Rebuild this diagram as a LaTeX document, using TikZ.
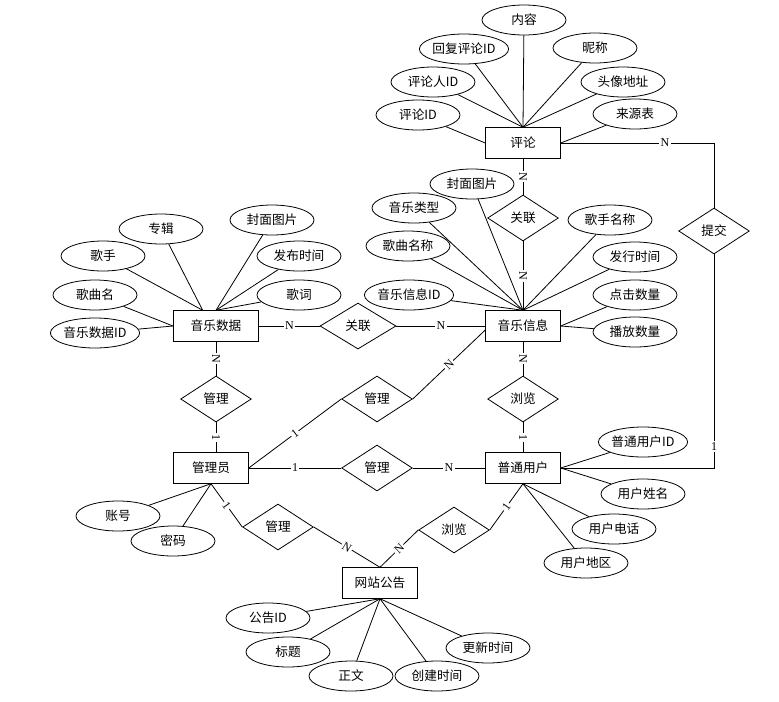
\documentclass[tikz,border=0pt]{standalone}
\usepackage{fontspec}
\setmainfont{Liberation Serif}
\newfontfamily\cjk{Noto Sans CJK SC}
\usetikzlibrary{shapes.geometric}
\begin{document}
\begin{tikzpicture}[x=0.75pt, y=-0.75pt, line width=0.6pt,
  entity/.style={draw, rectangle, minimum width=56pt, minimum height=23pt, font=\cjk\fontsize{9.5}{11}\selectfont},
  attr/.style={draw, ellipse, minimum width=63pt, minimum height=22.5pt, inner sep=0pt, font=\cjk\fontsize{9.5}{11}\selectfont},
  rel/.style={draw, diamond, minimum width=53pt, minimum height=34.5pt, inner sep=0pt, font=\cjk\fontsize{9.5}{11}\selectfont},
  card/.style={midway, sloped, fill=white, inner sep=1pt, font=\fontsize{9}{10}\selectfont}]
\useasboundingbox (0,0) rectangle (779,701);
\node[entity] (E_comment) at (523,143) {评论};
\node[entity] (E_info) at (523,326) {音乐信息};
\node[entity, minimum width=64pt] (E_data) at (216,326) {音乐数据};
\node[entity] (E_admin) at (211,468) {管理员};
\node[entity] (E_user) at (523,468) {普通用户};
\node[entity] (E_notice) at (380,583) {网站公告};
\node[attr] (A_comment_1) at (524,20) {内容};
\draw (A_comment_1) -- (E_comment.north);
\node[attr] (A_comment_2) at (464,49) {回复评论ID};
\draw (A_comment_2) -- (E_comment.north);
\node[attr] (A_comment_3) at (595,48) {昵称};
\draw (A_comment_3) -- (E_comment.north);
\node[attr] (A_comment_4) at (433,82) {评论人ID};
\draw (A_comment_4) -- (E_comment.north);
\node[attr] (A_comment_5) at (623,82) {头像地址};
\draw (A_comment_5) -- (E_comment.north);
\node[attr] (A_comment_6) at (418,115) {评论ID};
\draw (A_comment_6) -- (E_comment.west);
\node[attr] (A_comment_7) at (635,114) {来源表};
\draw (A_comment_7) -- (E_comment.east);
\node[attr] (A_info_1) at (472,184) {封面图片};
\draw (A_info_1) -- (E_info.north);
\node[attr] (A_info_2) at (414,208) {音乐类型};
\draw (A_info_2) -- (E_info.north);
\node[attr] (A_info_3) at (408,246) {歌曲名称};
\draw (A_info_3) -- (E_info.north);
\node[attr] (A_info_4) at (409,295) {音乐信息ID};
\draw (A_info_4) -- (E_info.north);
\node[attr] (A_info_5) at (610,220) {歌手名称};
\draw (A_info_5) -- (E_info.north);
\node[attr] (A_info_6) at (635,257) {发行时间};
\draw (A_info_6) -- (E_info.north);
\node[attr] (A_info_7) at (635,295) {点击数量};
\draw (A_info_7) -- (E_info.east);
\node[attr] (A_info_8) at (635,332) {播放数量};
\draw (A_info_8) -- (E_info.east);
\node[attr] (A_data_1) at (161,229) {专辑};
\draw (A_data_1) -- ([xshift=-10pt]E_data.north);
\node[attr] (A_data_2) at (272,220) {封面图片};
\draw (A_data_2) -- (E_data.north);
\node[attr] (A_data_3) at (103,256) {歌手};
\draw (A_data_3) -- ([xshift=-10pt]E_data.north);
\node[attr] (A_data_4) at (299,256) {发布时间};
\draw (A_data_4) -- (E_data.north);
\node[attr] (A_data_5) at (95,295) {歌曲名};
\draw (A_data_5) -- (E_data.west);
\node[attr] (A_data_6) at (299,295) {歌词};
\draw (A_data_6) -- (E_data.north);
\node[attr] (A_data_7) at (95,333) {音乐数据ID};
\draw (A_data_7) -- (E_data.west);
\node[attr] (A_admin_1) at (118,516) {账号};
\draw (A_admin_1) -- (E_admin.south);
\node[attr] (A_admin_2) at (173,541) {密码};
\draw (A_admin_2) -- (E_admin.south);
\node[attr] (A_user_1) at (643,442) {普通用户ID};
\draw (A_user_1) -- (E_user.east);
\node[attr] (A_user_2) at (643,494) {用户姓名};
\draw (A_user_2) -- (E_user.east);
\node[attr] (A_user_3) at (614,529) {用户电话};
\draw (A_user_3) -- (E_user.south);
\node[attr] (A_user_4) at (586,563) {用户地区};
\draw (A_user_4) -- (E_user.south);
\node[attr] (A_notice_1) at (268,618) {公告ID};
\draw (A_notice_1) -- (E_notice.south);
\node[attr] (A_notice_2) at (288,652) {标题};
\draw (A_notice_2) -- (E_notice.south);
\node[attr] (A_notice_3) at (351,676) {正文};
\draw (A_notice_3) -- (E_notice.south);
\node[attr] (A_notice_4) at (437,676) {创建时间};
\draw (A_notice_4) -- (E_notice.south);
\node[attr] (A_notice_5) at (488,648) {更新时间};
\draw (A_notice_5) -- (E_notice.south);
\node[rel] (R_link1) at (523,218) {关联};
\draw (E_comment) -- (R_link1) node[card] {N};
\draw (R_link1) -- (E_info) node[card] {N};
\node[rel, minimum width=57pt] (R_link2) at (358,326) {关联};
\draw (E_data) -- (R_link2) node[card] {N};
\draw (R_link2) -- (E_info) node[card] {N};
\node[rel] (R_manage1) at (216,399) {管理};
\draw (E_data) -- (R_manage1) node[card] {N};
\draw (R_manage1) -- (R_manage1 |- E_admin.north) node[card] {1};
\node[rel] (R_manage2) at (377,399) {管理};
\draw (E_admin.east) -- (R_manage2.west) node[card] {1};
\draw (R_manage2.east) -- ([yshift=-3pt]E_info.west) node[card] {N};
\node[rel] (R_browse1) at (523,399) {浏览};
\draw (E_info) -- (R_browse1) node[card] {N};
\draw (R_browse1) -- (E_user) node[card] {1};
\node[rel] (R_manage3) at (377,468) {管理};
\draw (E_admin) -- (R_manage3) node[card] {1};
\draw (R_manage3) -- (E_user) node[card] {N};
\node[rel] (R_manage4) at (278,527) {管理};
\draw (E_admin.south) -- (R_manage4.west) node[card] {1};
\draw (R_manage4.east) -- (E_notice.north) node[card] {N};
\node[rel] (R_browse2) at (454,530) {浏览};
\draw (E_user.south) -- (R_browse2.east) node[card] {1};
\draw (R_browse2.west) -- (E_notice.north) node[card] {N};
\node[rel] (R_submit) at (714,231) {提交};
\draw (E_comment.east) -| (R_submit.north) node[card, pos=0.34] {N};
\draw (R_submit.south) |- (E_user.east) node[pos=0.45, fill=white, inner sep=1pt, font=\fontsize{9}{10}\selectfont] {1};
\end{tikzpicture}
\end{document}
